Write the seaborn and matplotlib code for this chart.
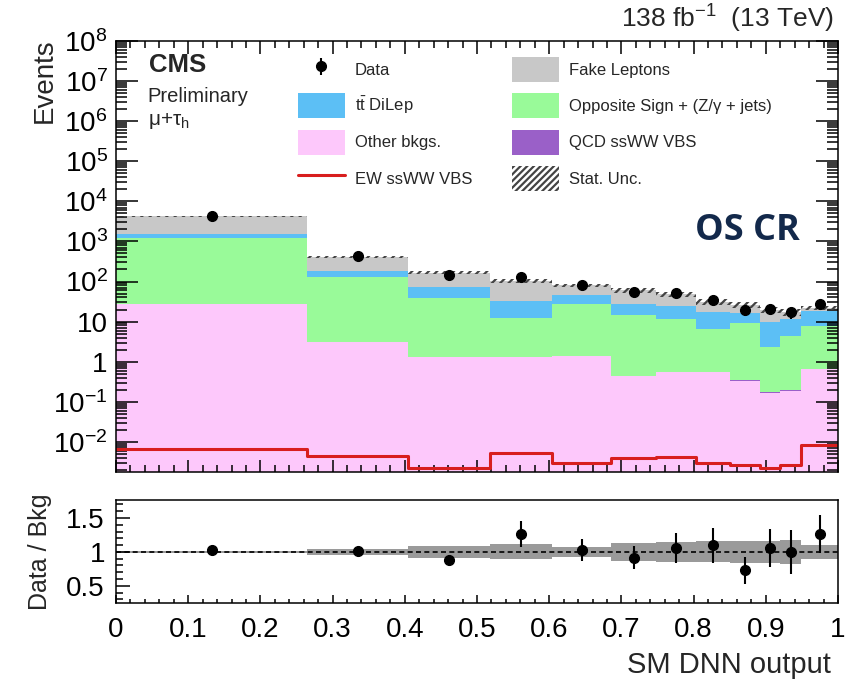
import numpy as np
import pandas as pd
import matplotlib
matplotlib.use("Agg")
import matplotlib.pyplot as plt
import seaborn as sns
from matplotlib.patches import Patch
from matplotlib.lines import Line2D
from matplotlib.ticker import LogLocator, MultipleLocator, FuncFormatter, NullFormatter

# ---- binning of the SM DNN output ----
bin_edges = [0.0, 0.265, 0.405, 0.518, 0.604, 0.686, 0.748, 0.803, 0.850, 0.892, 0.920, 0.949, 1.0]

# ---- expected yields per bin (stacked backgrounds) ----
other_bkgs = [28, 3.16, 1.33, 1.28, 1.38, 0.44, 0.55, 0.55, 0.33, 0.17, 0.19, 0.64]
qcd_ssww = [0.04, 0.02, 0.01, 0.01, 0.01, 0.01, 0.01, 0.01, 0.01, 0.005, 0.005, 0.01]
opposite_sign = [1162, 123, 37.7, 10.7, 26.6, 14.0, 11.3, 5.8, 9.1, 2.2, 4.2, 7.2]
ttbar_dilep = [330, 58, 36, 21, 18, 12.6, 12.6, 11.0, 7.4, 7.4, 7.5, 10.6]
fake_leptons = [2680, 231, 91, 72, 34, 33, 24.5, 13.6, 9.2, 10.2, 5.1, 3.6]

# ---- signal (not stacked) ----
ew_ssww = [0.0068, 0.0044, 0.0022, 0.0053, 0.0030, 0.0040, 0.0042, 0.0030, 0.0027, 0.0022, 0.0026, 0.0082]

# ---- observed data ----
data_counts = [4330, 423, 146, 133, 82, 55, 52, 34, 19, 21, 17, 28]
data_ratio_err = [0.02, 0.05, 0.07, 0.19, 0.16, 0.17, 0.22, 0.26, 0.20, 0.28, 0.32, 0.28]

# ---- relative statistical uncertainty of the background ----
stat_unc = [0.01, 0.045, 0.085, 0.11, 0.075, 0.128, 0.15, 0.155, 0.16, 0.16, 0.18, 0.10]

process_names = ["Fake Leptons", "tt DiLep", "Opposite Sign", "QCD ssWW VBS", "Other bkgs."]
process_values = [fake_leptons, ttbar_dilep, opposite_sign, qcd_ssww, other_bkgs]
process_colors = {
    "Fake Leptons": "#c8c8c8",
    "tt DiLep": "#5cbff5",
    "Opposite Sign": "#99fa99",
    "QCD ssWW VBS": "#9a60c8",
    "Other bkgs.": "#fdc8fb",
}
ew_color = "#d81e1e"

sns.set_style("ticks")
plt.rcParams["font.family"] = ["Liberation Sans", "DejaVu Sans"]
plt.rcParams["mathtext.fontset"] = "custom"
plt.rcParams["mathtext.rm"] = "Liberation Sans"
plt.rcParams["mathtext.it"] = "Liberation Sans:italic"
plt.rcParams["mathtext.bf"] = "Liberation Sans:bold"
plt.rcParams["hatch.linewidth"] = 1.6
plt.rcParams["hatch.color"] = "#444444"
plt.rcParams["axes.axisbelow"] = False
plt.rcParams["xtick.color"] = "black"
plt.rcParams["ytick.color"] = "black"
plt.rcParams["axes.edgecolor"] = "black"

edges = np.array(bin_edges)
centers = 0.5 * (edges[:-1] + edges[1:])
total = np.sum(np.array(process_values), axis=0)
data = np.array(data_counts, dtype=float)
ratio = data / total
ratio_err = np.array(data_ratio_err)
unc = np.array(stat_unc)

fig = plt.figure(figsize=(8.48, 6.79), dpi=100)
ax = fig.add_axes([0.1368, 0.3049, 0.8514, 0.6348])
ax2 = fig.add_axes([0.1368, 0.1119, 0.8514, 0.1517])

# stacked backgrounds
frames = []
for name, vals in zip(process_names, process_values):
    frames.append(pd.DataFrame({"x": centers, "w": vals, "process": name}))
stack_df = pd.concat(frames, ignore_index=True)
ax.set_yscale("log")
sns.histplot(stack_df, x="x", weights="w", hue="process", hue_order=process_names,
             palette=process_colors, bins=bin_edges, multiple="stack", element="bars",
             linewidth=0, alpha=1, legend=False, ax=ax)

# statistical uncertainty (hatched)
lo = np.append(total * (1 - unc), total[-1] * (1 - unc[-1]))
hi = np.append(total * (1 + unc), total[-1] * (1 + unc[-1]))
ax.fill_between(edges, lo, hi, step="post", facecolor="none", edgecolor="#444444",
                hatch="////", linewidth=0, zorder=3)

# EW ssWW signal line
sns.histplot(x=centers, weights=ew_ssww, bins=bin_edges, element="step", fill=False,
             color=ew_color, linewidth=2.2, ax=ax, zorder=4)

# data
data_handle = ax.errorbar(centers, data, yerr=ratio_err * total, fmt="o", color="black",
                          markersize=7, elinewidth=1.5, capsize=0, zorder=5)

ax.set_xlim(0, 1)
ax.set_ylim(10 ** -2.75, 1e8)
ax.set_xlabel("")
ax.set_ylabel("Events", fontsize=20, loc="top")
ax.yaxis.set_label_coords(-0.08, 1.006)


def log_label(v, pos):
    e = int(round(np.log10(v)))
    if e == 0:
        return "1"
    if e == 1:
        return "10"
    return r"$10^{%d}$" % e


ax.set_axisbelow(False)
ax.yaxis.set_major_locator(LogLocator(base=10, numticks=20))
ax.yaxis.set_minor_locator(LogLocator(base=10, subs=np.arange(2, 10), numticks=20))
ax.yaxis.set_major_formatter(FuncFormatter(log_label))
ax.yaxis.set_minor_formatter(NullFormatter())
ax.xaxis.set_major_locator(MultipleLocator(0.1))
ax.xaxis.set_minor_locator(MultipleLocator(0.02))
ax.tick_params(axis="both", which="both", direction="in", top=True, right=True,
               bottom=True, left=True, labelbottom=False, width=1.1, color="black")
ax.tick_params(axis="y", which="major", length=16, labelsize=20, pad=6)
ax.tick_params(axis="y", which="minor", length=8)
ax.tick_params(axis="x", which="major", length=9)
ax.tick_params(axis="x", which="minor", length=5)
for s in ax.spines.values():
    s.set_linewidth(1.1)
    s.set_visible(True)
    s.set_zorder(6)

# legend
legend_handles = [
    data_handle,
    Patch(facecolor=process_colors["tt DiLep"], linewidth=0),
    Patch(facecolor=process_colors["Other bkgs."], linewidth=0),
    Line2D([0], [0], color=ew_color, linewidth=2.2),
    Patch(facecolor=process_colors["Fake Leptons"], linewidth=0),
    Patch(facecolor=process_colors["Opposite Sign"], linewidth=0),
    Patch(facecolor=process_colors["QCD ssWW VBS"], linewidth=0),
    Patch(facecolor="white", edgecolor="#444444", hatch="/////", linewidth=0),
]
legend_labels = [
    "Data",
    r"$\mathregular{t\bar{t}}$ DiLep",
    "Other bkgs.",
    "EW ssWW VBS",
    "Fake Leptons",
    "Opposite Sign + (Z/\u03b3 + jets)",
    "QCD ssWW VBS",
    "Stat. Unc.",
]
ax.legend(legend_handles, legend_labels, ncol=2, loc="upper left",
          bbox_to_anchor=(0.252, 0.962), frameon=False, fontsize=12,
          handlelength=2.8, handleheight=1.93, handletextpad=0.6,
          columnspacing=2.4, labelspacing=0.67, borderpad=0, borderaxespad=0)

# labels inside the frame
ax.text(0.0457, 0.928, "CMS", transform=ax.transAxes, fontsize=18.5, fontweight="bold",
        ha="left", va="baseline")
ax.text(0.044, 0.859, "Preliminary", transform=ax.transAxes, fontsize=14.5,
        ha="left", va="baseline")
ax.text(0.044, 0.805, "\u03bc+\u03c4$_{\\mathregular{h}}$", transform=ax.transAxes,
        fontsize=15, ha="left", va="baseline")
ax.text(0.947, 0.538, "OS CR", transform=ax.transAxes, fontsize=26,
        fontweight="bold", family=["Open Sans", "DejaVu Sans"], color="#13294b",
        ha="right", va="baseline")

fig.text(834 / 848, 1 - 28 / 679, r"138 fb$^{-1}$  (13 TeV)", fontsize=19,
         ha="right", va="baseline")

# ratio panel
band_lo = np.append(1 - unc, 1 - unc[-1])
band_hi = np.append(1 + unc, 1 + unc[-1])
ax2.fill_between(edges, band_lo, band_hi, step="post", color="#9a9a9a", linewidth=0)
ax2.axhline(1.0, color="black", linestyle=(0, (3, 2)), linewidth=1.2)
ax2.errorbar(centers, ratio, yerr=ratio_err, fmt="o", color="black", markersize=7,
             elinewidth=1.5, capsize=0, zorder=5)
ax2.set_axisbelow(False)
ax2.set_xlim(0, 1)
ax2.set_ylim(0.245, 1.765)
ax2.xaxis.set_major_locator(MultipleLocator(0.1))
ax2.xaxis.set_minor_locator(MultipleLocator(0.02))
ax2.yaxis.set_major_locator(MultipleLocator(0.5))
ax2.yaxis.set_minor_locator(MultipleLocator(0.1))
ax2.xaxis.set_major_formatter(FuncFormatter(lambda v, p: "%g" % round(v, 3)))
ax2.yaxis.set_major_formatter(FuncFormatter(lambda v, p: "%g" % round(v, 3)))
ax2.tick_params(axis="both", which="both", direction="in", top=False, right=False,
                bottom=True, left=True, width=1.1, color="black")
ax2.tick_params(axis="x", which="major", length=6, labelsize=20, pad=10)
ax2.tick_params(axis="x", which="minor", length=3)
ax2.tick_params(axis="y", which="major", length=10, labelsize=20, pad=8)
ax2.tick_params(axis="y", which="minor", length=5)
for s in ax2.spines.values():
    s.set_linewidth(1.1)
    s.set_visible(True)
ax2.set_ylabel("Data / Bkg", fontsize=18)
ax2.yaxis.set_label_coords(-0.088, 0.5)
ax2.set_xlabel("SM DNN output", fontsize=21, loc="right")
ax2.xaxis.set_label_coords(0.99, -0.47)

fig.savefig("out.png", dpi=100)
